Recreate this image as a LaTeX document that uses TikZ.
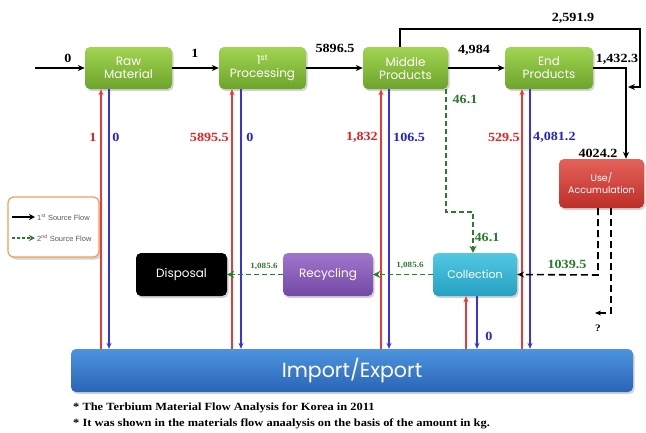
\documentclass[tikz,border=0pt]{standalone}
\usepackage{fontspec}
\setmainfont{Liberation Serif}[FakeStretch=1.13]
\newfontfamily\boxfont{Poppins}
\newfontfamily\legfont{Liberation Sans}
\usetikzlibrary{arrows.meta,shadows}
\definecolor{gtop}{HTML}{A2D452}
\definecolor{gbot}{HTML}{6CA42A}
\definecolor{rtop}{HTML}{E4625A}
\definecolor{rbot}{HTML}{BE2E28}
\definecolor{ctop}{HTML}{52C8E2}
\definecolor{cbot}{HTML}{26A0C2}
\definecolor{ptop}{HTML}{9E76CC}
\definecolor{pbot}{HTML}{7548A6}
\definecolor{btop}{HTML}{4C94DE}
\definecolor{bbot}{HTML}{2A64B6}
\definecolor{redl}{HTML}{E83A36}
\definecolor{bluel}{HTML}{3434E6}
\definecolor{redt}{HTML}{E02424}
\definecolor{bluet}{HTML}{2424C8}
\definecolor{greenl}{HTML}{2C7A2C}
\definecolor{legor}{HTML}{F0A05A}
\tikzset{
  fbox/.style={rounded corners=5pt, text=white, align=center, inner sep=0pt,
    font=\boxfont\fontsize{12}{13}\selectfont,
    drop shadow={opacity=0.35, shadow xshift=1.5pt, shadow yshift=-2pt}},
  gbox/.style={fbox, top color=gtop, bottom color=gbot},
  num/.style={font=\bfseries\fontsize{12.5}{13}\selectfont, inner sep=0pt},
  rnum/.style={num, text=redt},
  bnum/.style={num, text=bluet},
  gnum/.style={num, text=greenl},
  snum/.style={font=\bfseries\fontsize{8}{9}\selectfont, text=greenl, inner sep=0pt},
  blk/.style={draw=black, line width=1.5pt, -{Stealth[length=7pt,width=6pt]}},
  redup/.style={draw=redl, line width=1.1pt, -{Stealth[length=6pt,width=5pt]}},
  bluedn/.style={draw=bluel, line width=1.1pt, -{Stealth[length=6pt,width=5pt]}},
  gdash/.style={draw=greenl, line width=1.8pt, dash pattern=on 5pt off 3pt, -{Stealth[length=7pt,width=7pt]}},
  kdash/.style={draw=black, line width=1.6pt, dash pattern=on 7pt off 4pt},
}
\begin{document}
\begin{tikzpicture}[x=1pt,y=-1pt]
\useasboundingbox (0,0) rectangle (646,432);
% main boxes
\node[gbox, minimum width=87pt, minimum height=42pt] (raw) at (128.5,68) {Raw\\Material};
\node[gbox, minimum width=87pt, minimum height=42pt] (proc) at (262.5,68) {1\textsuperscript{st}\\Processing};
\node[gbox, minimum width=85pt, minimum height=42pt] (mid) at (405.5,68) {Middle\\Products};
\node[gbox, minimum width=88pt, minimum height=42pt] (endp) at (549,68) {End\\Products};
\node[fbox, top color=rtop, bottom color=rbot, minimum width=85pt, minimum height=49pt,
  font=\boxfont\fontsize{9.5}{12}\selectfont] (use) at (601.5,183.5) {Use/\\Accumulation};
\node[fbox, top color=ctop, bottom color=cbot, minimum width=84pt, minimum height=43pt,
  font=\boxfont\fontsize{11}{12}\selectfont] (coll) at (475,274.5) {Collection};
\node[fbox, top color=ptop, bottom color=pbot, minimum width=90pt, minimum height=43pt] (rec) at (328,274.5) {Recycling};
\node[fbox, fill=black, minimum width=91pt, minimum height=43pt] (disp) at (181.5,274.5) {Disposal};
\node[fbox, top color=btop, bottom color=bbot, minimum width=562pt, minimum height=43pt,
  font=\boxfont\fontsize{20.5}{21}\selectfont] (imp) at (352,370.5) {Import/Export};
% legend
\node[draw=legor, line width=1.2pt, fill=white, rounded corners=6pt, minimum width=91pt, minimum height=60pt,
  drop shadow={opacity=0.35, shadow xshift=2pt, shadow yshift=-2.5pt}] (leg) at (53.5,227) {};
\coordinate (l1a) at (12,217);
\coordinate (l1b) at (35,217);
\coordinate (l2a) at (12,238);
\coordinate (l2b) at (35,238);
\draw[blk, line width=1.3pt, -{Stealth[length=6pt,width=6pt]}] (l1a) -- (l1b);
\draw[gdash, line width=1.3pt, dash pattern=on 3pt off 2pt, -{Stealth[length=6pt,width=6pt]}] (l2a) -- (l2b);
\node[anchor=west, inner sep=0pt, text=black!65, font=\legfont\fontsize{7.5}{8}\selectfont] (lt1) at (37,217) {1\textsuperscript{st} Source Flow};
\node[anchor=west, inner sep=0pt, text=black!65, font=\legfont\fontsize{7.5}{8}\selectfont] (lt2) at (37,238) {2\textsuperscript{nd} Source Flow};
% main flow
\coordinate (in) at (35,68);
\draw[blk] (in) -- (raw.west);
\node[num] (n0) at (68,58) {0};
\draw[blk] (raw.east) -- (proc.west);
\node[num] (n1) at (195,53) {1};
\draw[blk] (proc.east) -- (mid.west);
\node[num] (n2) at (335,48) {5896.5};
\draw[blk] (mid.east) -- (endp.west);
\node[num] (n3) at (474,50) {4,984};
% top loop
\coordinate (loopend) at (628,87);
\draw[blk] (mid.north -| 400,0) -- (400,29) -- (640,29) -- (640,87) -- (loopend);
\node[num] (n4) at (573,18) {2,591.9};
% end -> use
\draw[blk] (endp.east) -- (626,68) -- (use.north -| 626,0);
\node[num] (n5) at (617,59) {1,432.3};
\node[num] (n6) at (598,153) {4024.2};
% vertical red/blue
\draw[redup] (imp.north -| 101,0) -- (raw.south -| 101,0);
\draw[bluedn] (raw.south -| 109,0) -- (imp.north -| 109,0);
\node[rnum] (r1) at (93,137) {1};
\node[bnum] (b1) at (116,137) {0};
\draw[redup] (imp.north -| 232,0) -- (proc.south -| 232,0);
\draw[bluedn] (proc.south -| 241,0) -- (imp.north -| 241,0);
\node[rnum, anchor=east] (r2) at (229,137) {5895.5};
\node[bnum] (b2) at (250,137) {0};
\draw[redup] (imp.north -| 381,0) -- (mid.south -| 381,0);
\draw[bluedn] (mid.south -| 389,0) -- (imp.north -| 389,0);
\node[rnum, anchor=east] (r3) at (378,137) {1,832};
\node[bnum, anchor=west] (b3) at (393,137) {106.5};
\draw[redup] (imp.north -| 522,0) -- (endp.south -| 522,0);
\draw[bluedn] (endp.south -| 530,0) -- (imp.north -| 530,0);
\node[rnum, anchor=east] (r4) at (520,137) {529.5};
\node[bnum, anchor=west] (b4) at (533,137) {4,081.2};
\draw[redup] (imp.north -| 466,0) -- (coll.south -| 466,0);
\draw[bluedn] (coll.south -| 477,0) -- (imp.north -| 477,0);
\node[bnum] (b5) at (489,336) {0};
% green dashed from middle
\draw[gdash] (mid.south -| 446,0) -- (446,212) -- (473,212) -- (coll.north -| 473,0);
\node[gnum] (g1) at (465,99) {46.1};
\node[gnum] (g2) at (487,237) {46.1};
% use -> collection
\draw[kdash, -{Stealth[length=7pt,width=6pt]}] (use.south -| 598,0) -- (598,275) -- (coll.east);
\node[gnum] (g3) at (567,264) {1039.5};
\coordinate (q) at (595,313);
\draw[kdash, -{Stealth[length=6pt,width=5pt]}] (use.south -| 611,0) -- (611,313) -- (q);
\node[num, font=\bfseries\fontsize{10}{11}\selectfont] (qm) at (598,328) {?};
% recycling chain
\draw[gdash] (coll.west) -- (rec.east);
\node[snum] (g4) at (410,265) {1,085.6};
\draw[gdash] (rec.west) -- (disp.east);
\node[snum] (g5) at (264,266) {1,085.6};
% footnotes
\node[anchor=west, inner sep=0pt, font=\bfseries\fontsize{11}{12}\selectfont] (f1) at (73,408) {* The Terbium Material Flow Analysis for Korea in 2011};
\node[anchor=west, inner sep=0pt, font=\bfseries\fontsize{11}{12}\selectfont] (f2) at (73,424) {* It was shown in the materials flow anaalysis on the basis of the amount in kg.};
\end{tikzpicture}
\end{document}
